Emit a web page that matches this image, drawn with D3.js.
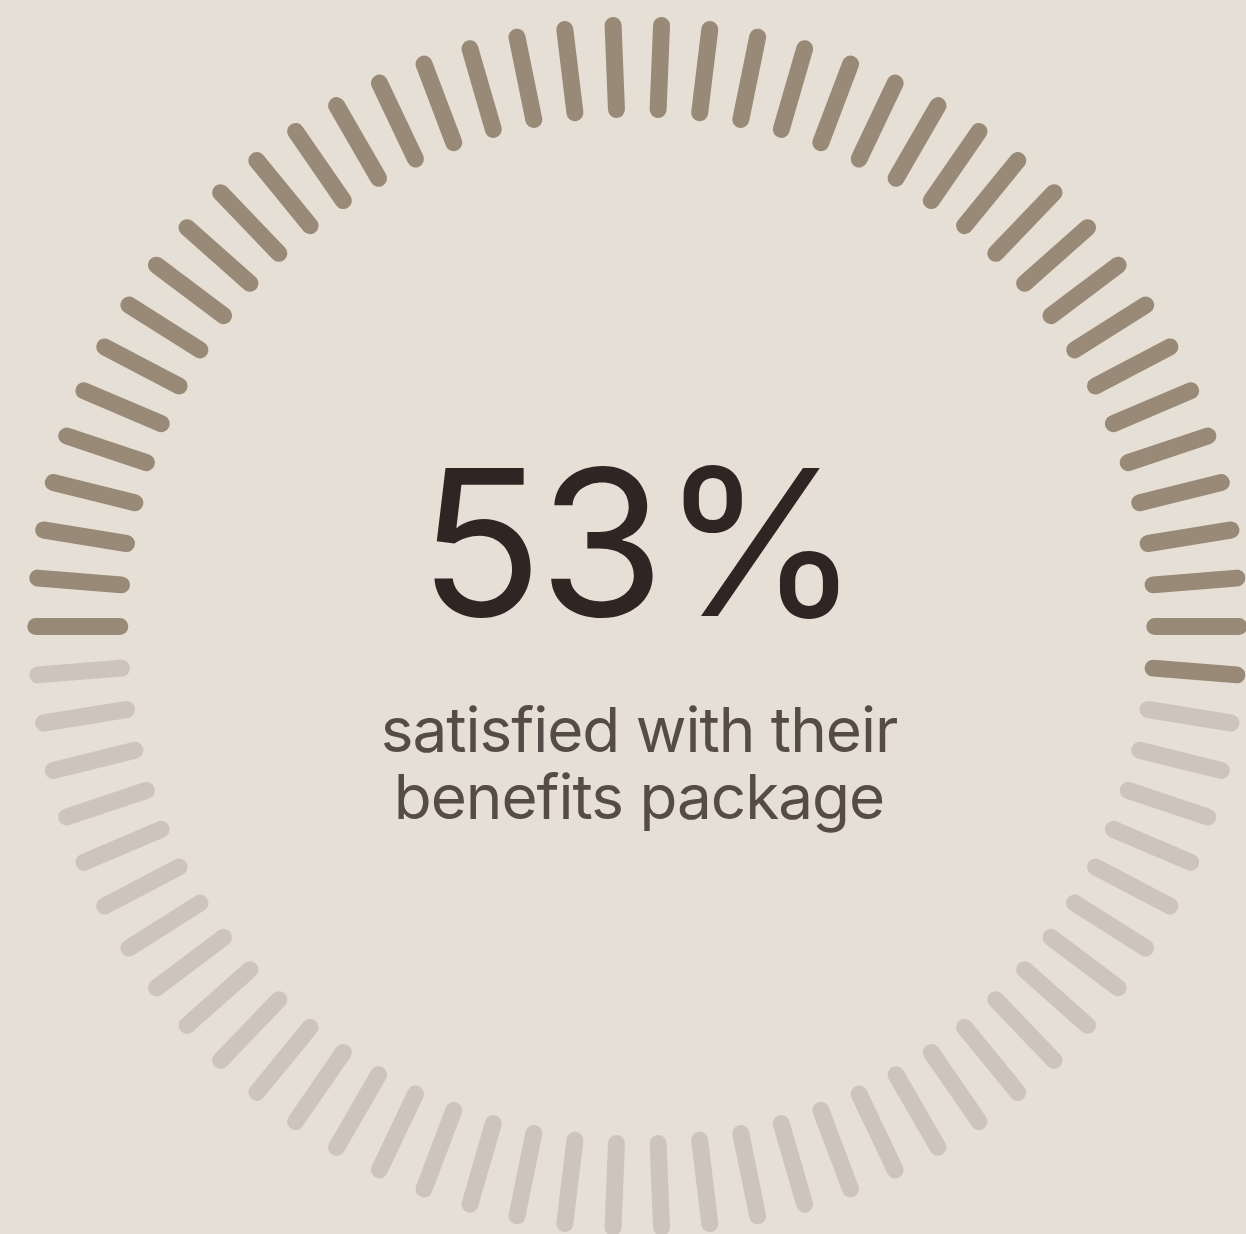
<!DOCTYPE html>
<html>
<head>
<meta charset="utf-8">
<script src="https://cdn.jsdelivr.net/npm/d3@7"></script>
<style>
  html, body { margin: 0; padding: 0; background: #e6dfd6; }
  svg { display: block; }
</style>
</head>
<body>
<svg id="chart" width="1246" height="1234"></svg>
<script>
// Share of respondents satisfied with their benefits package
const satisfiedPercent = [53];
const tickTotal = [78];
const headline = ["53%"];
const captionLines = ["satisfied with their", "benefits package"];

const width = 1246, height = 1234;
const cx = 637.3, cy = 626.5;
const innerR = 517.5, outerR = 601.5;

const svg = d3.select("#chart");
svg.append("rect").attr("width", width).attr("height", height).attr("fill", "#e6dfd6");

const n = tickTotal[0];
const filled = Math.round(satisfiedPercent[0] / 100 * n);

// angle measured clockwise from 12 o'clock; ring starts at 9 o'clock
const angle = d3.scaleLinear().domain([0, n]).range([-Math.PI / 2, 1.5 * Math.PI]);

const g = svg.append("g").attr("transform", `translate(${cx},${cy})`);

g.selectAll("line.tick")
  .data(d3.range(n))
  .join("line")
  .attr("class", "tick")
  .attr("x1", i => d3.pointRadial(angle(i), innerR)[0])
  .attr("y1", i => d3.pointRadial(angle(i), innerR)[1])
  .attr("x2", i => d3.pointRadial(angle(i), outerR)[0])
  .attr("y2", i => d3.pointRadial(angle(i), outerR)[1])
  .attr("stroke", i => i < filled ? "#998a78" : "#cdc5bb")
  .attr("stroke-width", 17)
  .attr("stroke-linecap", "round");

svg.append("text")
  .attr("x", 638)
  .attr("y", 616)
  .attr("text-anchor", "middle")
  .attr("font-family", "Inter, 'Noto Sans', sans-serif")
  .attr("font-size", 204)
  .attr("font-weight", 400)
  .attr("letter-spacing", -4)
  .attr("fill", "#302523")
  .text(headline[0]);

// two caption lines, each its own text element
svg.selectAll("text.caption")
  .data(captionLines)
  .join("text")
  .attr("class", "caption")
  .attr("x", 639)
  .attr("y", (d, i) => 752 + i * 67)
  .attr("text-anchor", "middle")
  .attr("font-family", "Inter, 'Noto Sans', sans-serif")
  .attr("font-size", 62)
  .attr("font-weight", 400)
  .attr("letter-spacing", -1)
  .attr("fill", "#554c48")
  .text(d => d);
</script>
</body>
</html>
